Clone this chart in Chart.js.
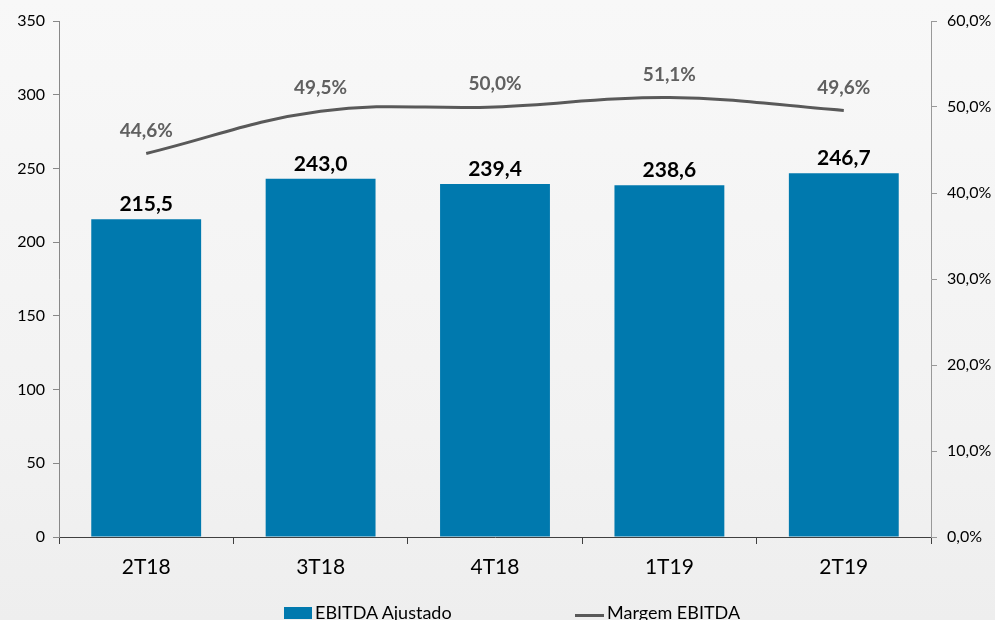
<!DOCTYPE html>
<html>
<head>
<meta charset="utf-8">
<script src="https://cdn.jsdelivr.net/npm/chart.js@4/dist/chart.umd.min.js"></script>
<style>
  html, body { margin: 0; padding: 0; }
  body {
    width: 995px; height: 620px; overflow: hidden; position: relative;
    background: linear-gradient(180deg, #f8f8f8 0%, #f2f2f2 70%, #eeeeee 100%);
    font-family: Lato, "Open Sans", sans-serif;
  }
  #wrap { position: absolute; left: 0; top: 0; width: 995px; height: 620px; }
  .leg { position: absolute; top: 600px; font-size: 18px; color: #000; white-space: nowrap; line-height: 24px; }
  .leg i { display: inline-block; vertical-align: middle; margin-right: 3px; }
</style>
</head>
<body>
<div id="wrap"><canvas id="chart"></canvas></div>
<div class="leg" style="left:284px"><i style="width:28px;height:12px;background:#0079ae;position:relative;top:-1px"></i>EBITDA Ajustado</div>
<div class="leg" style="left:575px"><i style="width:29px;height:3px;background:#595959;position:relative;top:1px"></i>Margem EBITDA</div>
<script>
// categories and series
const quarters = ['2T18', '3T18', '4T18', '1T19', '2T19'];
const ebitda = [215.5, 243.0, 239.4, 238.6, 246.7];
const margem = [44.6, 49.5, 50.0, 51.1, 49.6];

const fmt = (v, d) => v.toFixed(d).replace('.', ',');

// value labels above bars and line
const valueLabels = {
  id: 'valueLabels',
  afterDatasetsDraw(chart) {
    const ctx = chart.ctx;
    ctx.save();
    ctx.textAlign = 'center';
    ctx.textBaseline = 'middle';
    chart.data.datasets.forEach((ds, i) => {
      const meta = chart.getDatasetMeta(i);
      meta.data.forEach((el, j) => {
        if (ds.type === 'line') {
          ctx.font = 'bold 19px Lato, sans-serif';
          ctx.fillStyle = '#606060';
          ctx.fillText(fmt(ds.data[j], 1) + '%', el.x, el.y - 23);
        } else {
          ctx.font = 'bold 21px Lato, sans-serif';
          ctx.fillStyle = '#000000';
          ctx.fillText(fmt(ds.data[j], 1), el.x, el.y - 15);
        }
      });
    });
    ctx.restore();
  }
};

new Chart(document.getElementById('chart'), {
  type: 'bar',
  data: {
    labels: quarters,
    datasets: [{
      type: 'line',
      label: 'Margem EBITDA',
      data: margem,
      yAxisID: 'y1',
      borderColor: '#595959',
      borderWidth: 3,
      pointRadius: 0,
      tension: 0.4,
      fill: false,
      order: 0
    }, {
      type: 'bar',
      label: 'EBITDA Ajustado',
      data: ebitda,
      yAxisID: 'y',
      backgroundColor: '#0079ae',
      categoryPercentage: 1,
      barPercentage: 0.63,
      order: 1
    }]
  },
  options: {
    responsive: true,
    maintainAspectRatio: false,
    animation: false,
    layout: { padding: { top: 21, bottom: 23, left: 0, right: 0 } },
    plugins: { legend: { display: false }, tooltip: { enabled: false } },
    scales: {
      x: {
        grid: { display: true, drawOnChartArea: false, drawTicks: true, tickLength: 7, color: '#404040' },
        border: { display: true, color: '#404040', width: 1 },
        ticks: { color: '#000', font: { size: 21, family: 'Lato' }, padding: 11 },
        afterFit(s) { s.height = 60; }
      },
      y: {
        position: 'left',
        min: 0, max: 350,
        ticks: { stepSize: 50, color: '#000', font: { size: 16, family: 'Lato' }, padding: 8 },
        grid: { display: true, drawOnChartArea: false, drawTicks: true, tickLength: 6, color: '#888888' },
        border: { display: true, color: '#888888' },
        afterFit(s) { s.width = 59; }
      },
      y1: {
        position: 'right',
        min: 0, max: 60,
        ticks: { stepSize: 10, color: '#000', font: { size: 16, family: 'Lato' }, padding: 10,
          callback: v => fmt(v, 1) + '%' },
        grid: { display: true, drawOnChartArea: false, drawTicks: true, tickLength: 6, color: '#999999' },
        border: { display: true, color: '#999999' },
        afterFit(s) { s.width = 64; }
      }
    }
  },
  plugins: [valueLabels]
});
</script>
</body>
</html>
